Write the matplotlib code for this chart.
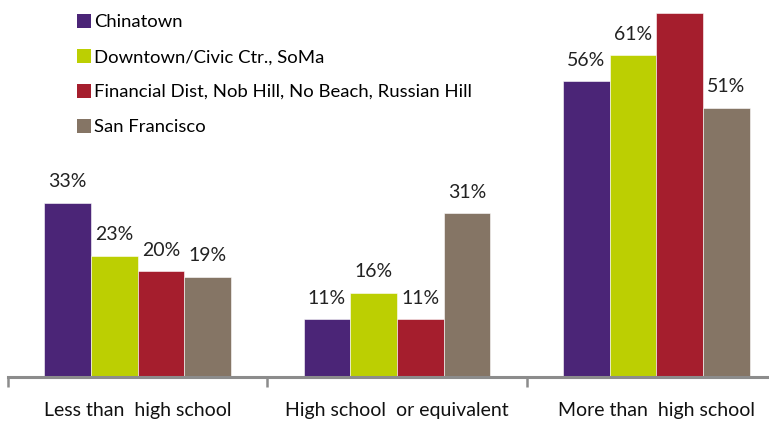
import numpy as np
import matplotlib.pyplot as plt
from matplotlib.patches import Patch

categories = ['Less than  high school', 'High school  or equivalent', 'More than  high school']
series = ['Chinatown', 'Downtown/Civic Ctr., SoMa',
          'Financial Dist, Nob Hill, No Beach, Russian Hill', 'San Francisco']
values = [[33, 11, 56],
          [23, 16, 61],
          [20, 11, 69],
          [19, 31, 51]]
# the top red bar's label falls outside the picture in the source
labels = [['33%', '11%', '56%'],
          ['23%', '16%', '61%'],
          ['20%', '11%', ''],
          ['19%', '31%', '51%']]
colors = ['#4B2577', '#BCCF02', '#A51E2D', '#857565']

plt.rcParams['font.family'] = ['Lato', 'DejaVu Sans']

fig = plt.figure(figsize=(7.69, 4.21), dpi=100)
ax = fig.add_axes([8 / 769, 44 / 421, 778 / 769, 377 / 421])

x = np.arange(len(categories))
w = 0.18
for i in range(len(series)):
    pos = x + (i - 1.5) * w
    ax.bar(pos, values[i], w, color=colors[i], edgecolor='white', linewidth=0.4)
    for px, v, lab in zip(pos, values[i], labels[i]):
        ax.annotate(lab, (px, v), xytext=(0, 11), textcoords='offset points',
                    ha='center', va='baseline', fontsize=14, color='#222222')

ax.set_xlim(-0.5, 2.5)
ax.set_ylim(0, 71.4)
for s in ['top', 'right', 'left']:
    ax.spines[s].set_visible(False)
ax.spines['bottom'].set_color('#8c8c8c')
ax.spines['bottom'].set_linewidth(2.2)
ax.set_yticks([])
ax.set_xticks(x)
ax.set_xticklabels(categories, fontsize=14, color='#111111')
ax.tick_params(axis='x', which='major', length=0, pad=18)
ax.set_xticks([-0.5, 0.5, 1.5, 2.5], minor=True)
ax.tick_params(axis='x', which='minor', length=7, width=1.8, color='#8c8c8c')

handles = [Patch(facecolor=c, edgecolor='none') for c in colors]
fig.legend(handles, series, loc='upper left', bbox_to_anchor=(73 / 769, 411 / 421),
           frameon=False, fontsize=13.3, handlelength=0.8, handleheight=0.8,
           handletextpad=0.15, labelspacing=1.0, borderpad=0.2, borderaxespad=0)

fig.savefig('out.png', dpi=100)
